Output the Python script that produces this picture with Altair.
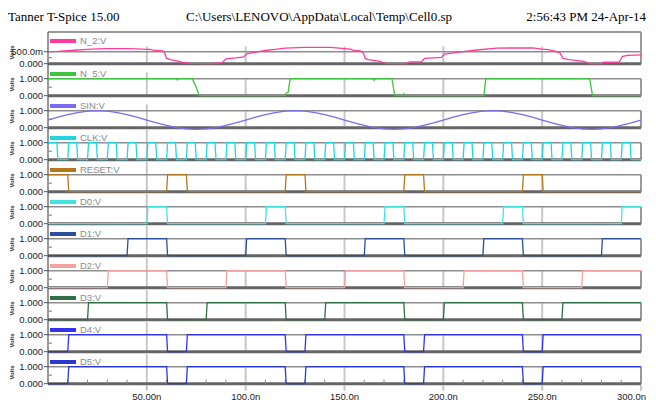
import altair as alt
import pandas as pd

W = 593
PANEL_H = 31.7
T_END = 300
EDGE = 0.5

MAJOR_T = [50, 100, 150, 200, 250, 300]
MAJOR_LABELS = ["50.00n", "100.0n", "150.0n", "200.0n", "250.0n", "300.0n"]
MINOR_T = [10, 20, 30, 40, 60, 70, 80, 90, 110, 120, 130, 140, 160, 170, 180, 190,
           210, 220, 230, 240, 260, 270, 280, 290]
Y_TICKS_N2 = [0, 0.5]
Y_LABELS_N2 = ["0.000", "500.0m"]
Y_TICKS = [0, 1]
Y_LABELS = ["0.000", "1.000"]
Y_TITLE = "Volts"

HEADER_LEFT = "Tanner T-Spice 15.00"
HEADER_MID = "C:\\Users\\LENOVO\\AppData\\Local\\Temp\\Cell0.sp"
HEADER_RIGHT = "2:56:43 PM 24-Apr-14"

N2_T = [0, 5, 10, 15, 20, 25, 30, 40, 45, 50, 52, 54, 58, 59, 60, 62, 65, 68, 72, 82,
        88, 90, 95, 99, 100.5, 105, 110, 115, 120, 130, 143, 150, 153, 155, 158, 159.5, 160.5, 162, 168, 171,
        181, 183, 189, 190.5, 199, 200.5, 210, 217, 227, 245, 250, 253, 256, 259, 260.5, 263.5, 271, 274, 280, 281,
        289, 290.5, 293, 300]
N2_V = [0.50, 0.51, 0.54, 0.57, 0.60, 0.62, 0.63, 0.63, 0.62, 0.60, 0.60, 0.55, 0.53, 0.45, 0.22, 0.17, 0.12, 0.05, 0.01, 0.00,
        0.03, 0.20, 0.24, 0.28, 0.41, 0.48, 0.55, 0.60, 0.65, 0.68, 0.68, 0.63, 0.61, 0.55, 0.53, 0.45, 0.22, 0.17, 0.10, 0.01,
        0.00, 0.08, 0.08, 0.22, 0.26, 0.40, 0.50, 0.57, 0.65, 0.66, 0.61, 0.59, 0.53, 0.45, 0.22, 0.17, 0.10, 0.00, 0.00, 0.06,
        0.07, 0.30, 0.35, 0.37]

N5_T = [0, 65, 65.5, 66, 73, 75, 76.5, 120, 120.5, 121.5, 122.5, 164.5, 165, 165.5, 174, 175, 175.5,
        179.5, 180, 180.5, 220.5, 221.5, 274, 275.5, 300]
N5_V = [1, 1, 0.93, 1, 1, 0.5, 0, 0, 0.15, 0.2, 1, 1, 0.9, 1, 1, 0.3, 0,
        0, 0.12, 0, 0, 1, 1, 0, 0]

SIN_T = list(range(0, 301, 5))
SIN_V = [0.45, 0.62, 0.77, 0.89, 0.97, 1.00, 0.97, 0.89, 0.77, 0.62,
         0.45, 0.28, 0.13, 0.00, -0.07, -0.10, -0.07, 0.00, 0.13, 0.28,
         0.45, 0.62, 0.77, 0.89, 0.97, 1.00, 0.97, 0.89, 0.77, 0.62,
         0.45, 0.28, 0.13, 0.00, -0.07, -0.10, -0.07, 0.00, 0.13, 0.28,
         0.45, 0.62, 0.77, 0.89, 0.97, 1.00, 0.97, 0.89, 0.77, 0.62,
         0.45, 0.28, 0.13, 0.00, -0.07, -0.10, -0.07, 0.00, 0.13, 0.28,
         0.45]

CLK_START = [0, 10, 20, 30, 40, 50, 60, 70, 80, 90, 100, 110, 120, 130, 140,
             150, 160, 170, 180, 190, 200, 210, 220, 230, 240, 250, 260, 270, 280, 290]
CLK_END = [4.5, 14.5, 24.5, 34.5, 44.5, 54.5, 64.5, 74.5, 84.5, 94.5, 104.5, 114.5, 124.5, 134.5, 144.5,
           154.5, 164.5, 174.5, 184.5, 194.5, 204.5, 214.5, 224.5, 234.5, 244.5, 254.5, 264.5, 274.5, 284.5, 294.5]
RESET_START = [0, 60, 120, 180, 240]
RESET_END = [10, 70, 130, 190, 250]
D0_START = [50, 110, 170, 230, 290]
D0_END = [60, 120, 180, 240, 300]
D1_START = [40, 100, 160, 220, 280]
D1_END = [60, 120, 180, 240, 300]
D2_START = [30, 90, 150, 210, 270]
D2_END = [60, 120, 180, 240, 300]
D3_START = [20, 80, 140, 200, 260]
D3_END = [60, 120, 180, 240, 300]
D4_START = [10, 70, 130, 190, 250]
D4_END = [60, 120, 180, 240, 300]
D5_START = [10, 70, 130, 190, 250]
D5_END = [60, 120, 180, 240, 300]


def square(starts, ends):
    pts = [] if starts[0] == 0 else [(0, 0)]
    for s, e in zip(starts, ends):
        if s == 0:
            pts.append((0, 1))
        else:
            pts += [(s, 0), (s + EDGE, 1)]
        if e < T_END:
            pts += [(e, 1), (e + EDGE, 0)]
        else:
            pts.append((T_END, 1))
    if pts[-1][0] < T_END:
        pts.append((T_END, 0))
    return [p[0] for p in pts], [p[1] for p in pts]


NARROW = "Liberation Sans Narrow, Liberation Sans, Arial"
ONE = pd.DataFrame({"a": [0]})


def panel(name, color, t, v, ymax, yticks, ylabels, boxline, gridtop, cursortop, first=False, last=False):
    xs = alt.Scale(domain=[0, T_END], nice=False, zero=False)
    ys = alt.Scale(domain=[0, ymax], nice=False, zero=False)
    df = pd.DataFrame({"t": t, "v": v})

    def X(f):
        return alt.X(f, scale=xs, axis=None)

    def Y(f):
        return alt.Y(f, scale=ys, axis=None)

    layers = []
    grid_df = pd.DataFrame({"t": MAJOR_T[:-1], "b": [0] * 5, "top": [cursortop] + [gridtop] * 4})
    layers.append(alt.Chart(grid_df).mark_rule(color="#c8c8c8", strokeWidth=2).encode(
        x=X("t:Q"), y=Y("b:Q"), y2="top:Q"))
    hl_df = pd.DataFrame({"t0": [0], "t1": [T_END], "y": [boxline]})
    layers.append(alt.Chart(hl_df).mark_rule(color="#8e8e8e", strokeWidth=1.5).encode(
        x=X("t0:Q"), x2="t1:Q", y=Y("y:Q")))
    rb_df = pd.DataFrame({"t": [T_END], "b": [0], "top": [ymax if first else boxline]})
    layers.append(alt.Chart(rb_df).mark_rule(color="#9a9a9a", strokeWidth=2).encode(
        x=X("t:Q"), y=Y("b:Q"), y2="top:Q"))
    if first:
        layers.append(alt.Chart(ONE).mark_rule(color="#9a9a9a", strokeWidth=2).encode(
            x=alt.value(0), x2=alt.value(W), y=alt.value(0)))
        # white spacer so the header glyphs are not clipped at the top edge
        layers.append(alt.Chart(ONE).mark_rule(color="#ffffff", strokeWidth=1).encode(
            x=alt.value(0), x2=alt.value(1), y=alt.value(-23.5)))
        for txt, xpos, al in [(HEADER_LEFT, -40, "left"), (HEADER_MID, 271, "center"),
                              (HEADER_RIGHT, 598, "right")]:
            layers.append(alt.Chart(ONE).mark_text(align=al, baseline="top", font="Liberation Serif",
                                                   fontSize=13, color="#000000").encode(
                x=alt.value(xpos), y=alt.value(-21), text=alt.value(txt)))
    layers.append(alt.Chart(ONE).mark_rule(color="#555555", strokeWidth=1.2).encode(
        x=alt.value(0), y=alt.value(0), y2=alt.value(PANEL_H)))
    yt_df = pd.DataFrame({"y": yticks, "lab": ylabels})
    layers.append(alt.Chart(yt_df).mark_rule(color="#555555", strokeWidth=1).encode(
        x=alt.value(-4), x2=alt.value(0), y=Y("y:Q")))
    layers.append(alt.Chart(yt_df).mark_text(align="right", baseline="middle", font=NARROW, fontSize=9.5,
                                             color="#222222").encode(
        x=alt.value(-5), y=Y("y:Q"), text="lab:N"))
    mt_df = pd.DataFrame({"y": [yticks[-1] / 2]})
    layers.append(alt.Chart(mt_df).mark_rule(color="#777777", strokeWidth=1).encode(
        x=alt.value(1), x2=alt.value(4), y=Y("y:Q")))
    layers.append(alt.Chart(ONE).mark_text(angle=270, align="center", baseline="middle", font=NARROW,
                                           fontSize=6, fontWeight="bold", color="#333333").encode(
        x=alt.value(-36), y=alt.value(20.5), text=alt.value(Y_TITLE)))
    layers.append(alt.Chart(hl_df).mark_rule(color="#666666", strokeWidth=3).encode(
        x=X("t0:Q"), x2="t1:Q", y=alt.value(PANEL_H)))
    if last:
        mx_df = pd.DataFrame({"t": MINOR_T, "b": [0] * len(MINOR_T), "top": [0.24] * len(MINOR_T)})
        layers.append(alt.Chart(mx_df).mark_rule(color="#888888", strokeWidth=1).encode(
            x=X("t:Q"), y=Y("b:Q"), y2="top:Q"))
        xt_df = pd.DataFrame({"t": MAJOR_T, "lab": MAJOR_LABELS})
        layers.append(alt.Chart(xt_df).mark_rule(color="#c4c4c4", strokeWidth=2).encode(
            x=X("t:Q"), y=alt.value(PANEL_H + 1.5), y2=alt.value(PANEL_H + 7)))
        layers.append(alt.Chart(xt_df.iloc[:-1]).mark_text(align="center", baseline="middle", font=NARROW,
                                                           fontSize=9.5, color="#222222").encode(
            x=X("t:Q"), y=alt.value(PANEL_H + 13), text="lab:N"))
        layers.append(alt.Chart(xt_df.iloc[-1:]).mark_text(align="right", baseline="middle", font=NARROW,
                                                           fontSize=9.5, color="#222222", dx=5).encode(
            x=X("t:Q"), y=alt.value(PANEL_H + 13), text="lab:N"))
    layers.append(alt.Chart(df).mark_line(color=color, strokeWidth=1.3).encode(
        x=X("t:Q"), y=Y("v:Q")))
    legend_y = 9 if first else 10
    layers.append(alt.Chart(ONE).mark_rule(color=color, strokeWidth=4).encode(
        x=alt.value(2), x2=alt.value(28), y=alt.value(legend_y)))
    layers.append(alt.Chart(ONE).mark_text(align="left", baseline="middle", font=NARROW, fontSize=9.5,
                                           color="#8a8a8a").encode(
        x=alt.value(32), y=alt.value(legend_y), text=alt.value(name)))
    return alt.layer(*layers).properties(width=W, height=PANEL_H)


DIG_MAX = PANEL_H / 17.0
N2_MAX = PANEL_H / 24.0

panels = [
    panel("N_2:V", "#ff3c9e", N2_T, N2_V, N2_MAX, Y_TICKS_N2, Y_LABELS_N2, 0.5, 0.72, 0.72, first=True),
    panel("N_5:V", "#3ec43e", N5_T, N5_V, DIG_MAX, Y_TICKS, Y_LABELS, 1.0, 1.0, 1.37),
    panel("SIN:V", "#7a6cf0", SIN_T, SIN_V, DIG_MAX, Y_TICKS, Y_LABELS, 1.0, 1.0, 1.37),
]
digital = [
    ("CLK:V", "#22d6e0", CLK_START, CLK_END),
    ("RESET:V", "#b5771d", RESET_START, RESET_END),
    ("D0:V", "#44e4e4", D0_START, D0_END),
    ("D1:V", "#2b4f9a", D1_START, D1_END),
    ("D2:V", "#f2a2a2", D2_START, D2_END),
    ("D3:V", "#2f6f45", D3_START, D3_END),
    ("D4:V", "#3333ee", D4_START, D4_END),
    ("D5:V", "#2a3ad0", D5_START, D5_END),
]
for k, (nm, col, st, en) in enumerate(digital):
    tt, vv = square(st, en)
    panels.append(panel(nm, col, tt, vv, DIG_MAX, Y_TICKS, Y_LABELS, 1.0, 1.0, 1.75,
                        last=(k == len(digital) - 1)))

chart = alt.vconcat(*panels, spacing=0, bounds="flush").properties(padding=0).configure_view(stroke=None)
chart.save("out.html", embed_options={"renderer": "svg", "actions": False})
